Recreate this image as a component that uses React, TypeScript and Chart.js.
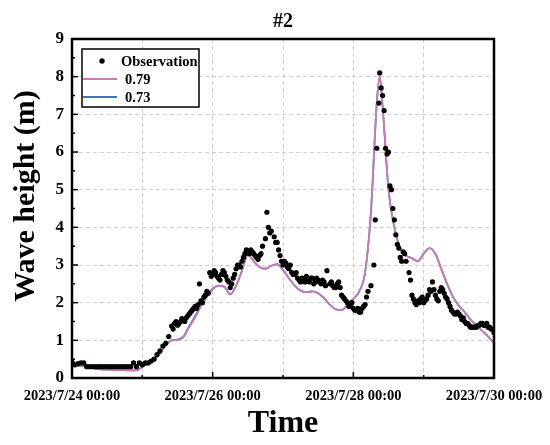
import React, { useEffect, useRef } from 'react';
import { Chart, registerables } from 'chart.js';

Chart.register(...registerables);

const FONT = '"Liberation Serif", "Times New Roman", serif';

const chartTitle = '#2';
const yTitle = 'Wave height (m)';
const xTitle = 'Time';
const legendLabels = ['Observation', '0.79', '0.73'];

// x axis: hours since 2023/7/24 00:00
const xTickHours = [0, 48, 96, 144];
const xTickLabels = ['2023/7/24 00:00', '2023/7/26 00:00', '2023/7/28 00:00', '2023/7/30 00:00'];

const obsHours = [
  0, 1, 2, 3, 4, 5, 6, 7, 8, 9, 10, 11, 12, 13, 14, 15, 16, 17, 18, 19, 20,
  21, 22, 23, 24, 25, 26, 27, 28, 29, 30, 31, 32, 33, 34, 35, 36, 37, 38, 39, 40,
  41, 42, 43, 43.5, 44, 45, 46, 47, 48, 49, 50, 51, 52, 53, 54, 55, 56, 57, 58, 59,
  60, 61, 62, 63, 64, 65, 66, 66.5, 67, 68, 69, 70, 71, 72, 73, 74, 75, 76, 77, 78,
  79, 80, 81, 82, 83, 84, 85, 86, 87, 88, 89, 90, 91, 92, 93, 94, 95, 96, 97, 98,
  99, 100, 101, 102, 103, 103.5, 104, 104.7, 105, 105.5, 106, 106.5, 107, 107.5, 108,
  108.5, 109, 109.5, 110, 110.5, 111, 111.5, 112, 112.5, 113, 113.5, 114, 115, 115.5,
  116, 117, 118, 119, 120, 121, 122, 123, 124, 125, 126, 127, 128, 129, 130, 131, 132,
  133, 134, 135, 136, 137, 138, 139, 140, 141, 142, 143, 144,
];
const obsWave = [
  0.42, 0.35, 0.38, 0.4, 0.4, 0.3, 0.3, 0.3, 0.3, 0.3, 0.3, 0.3, 0.3, 0.3, 0.3, 0.3, 0.3, 0.3, 0.3, 0.3, 0.3,
  0.4, 0.3, 0.4, 0.35, 0.4, 0.4, 0.45, 0.5, 0.62, 0.72, 0.85, 0.92, 1.1, 1.38, 1.45, 1.4, 1.5, 1.55, 1.6, 1.7,
  1.8, 1.9, 1.95, 2.5, 2.05, 2.15, 2.3, 2.8, 2.75, 2.8, 2.65, 2.75, 2.8, 2.6, 2.4, 2.65, 2.9, 3.0, 3.1, 3.3,
  3.35, 3.4, 3.3, 3.2, 3.25, 3.5, 3.7, 4.4, 4.0, 3.9, 3.75, 3.6, 3.25, 3.0, 3.05, 2.9, 2.8, 2.75, 2.65, 2.55,
  2.6, 2.7, 2.55, 2.65, 2.55, 2.6, 2.5, 2.55, 2.85, 2.5, 2.45, 2.4, 2.55, 2.2, 2.1, 2.0, 1.95, 1.85, 1.8, 1.75,
  1.85, 1.95, 2.3, 2.45, 3.0, 4.2, 6.1, 7.3, 8.1, 7.7, 7.5, 7.1, 6.1, 5.95, 6.0,
  5.1, 5.0, 4.5, 4.2, 3.8, 3.55, 3.45, 3.2, 3.1, 3.35, 3.3, 3.1, 2.8, 2.6,
  2.2, 2.0, 2.05, 2.1, 2.0, 2.1, 2.35, 2.55, 2.2, 2.05, 2.4, 2.25, 2.1, 1.9, 1.75, 1.7, 1.7,
  1.55, 1.5, 1.45, 1.35, 1.35, 1.35, 1.4, 1.45, 1.4, 1.35, 1.3, 1.2,
];

// additional half-hour observations
const obsHoursExtra = [
  34.5, 35.5, 36.5, 37.5, 38.5, 39.5, 40.5, 41.5, 42.5, 44.5, 45.5, 46.5, 47.5, 48.5, 49.5, 50.5,
  51.5, 52.5, 53.5, 54.5, 55.5, 56.5, 57.5, 58.5, 59.5, 60.5, 61.5, 62.5, 63.5, 64.5, 67.5, 69.5,
  70.5, 71.5, 72.5, 73.5, 74.5, 75.5, 76.5, 77.5, 78.5, 79.5, 80.5, 81.5, 82.5, 83.5, 84.5, 85.5,
  86.5, 88.5, 89.5, 90.5, 91.5, 92.5, 93.5, 94.5, 95.5, 96.5, 97.5, 98.5, 99.5, 100.5, 116.5, 117.5,
  118.5, 119.5, 120.5, 121.5, 122.5, 123.5, 124.5, 125.5, 126.5, 127.5, 128.5, 129.5, 130.5, 131.5,
  132.5, 133.5, 134.5, 135.5, 136.5, 137.5, 138.5, 139.5, 140.5, 141.5, 142.5, 143.5,
];
const obsWaveExtra = [
  1.3, 1.5, 1.45, 1.58, 1.5, 1.65, 1.75, 1.85, 1.85, 2.0, 2.2, 2.25, 2.7, 2.85, 2.7, 2.6,
  2.85, 2.7, 2.55, 2.5, 2.75, 3.0, 2.95, 3.2, 3.4, 3.3, 3.35, 3.25, 3.15, 3.3, 3.85, 3.6,
  3.4, 3.1, 3.1, 2.95, 3.0, 2.75, 2.8, 2.6, 2.65, 2.55, 2.6, 2.65, 2.5, 2.65, 2.55, 2.6,
  2.45, 2.55, 2.4, 2.5, 2.4, 2.15, 2.05, 1.9, 2.0, 1.8, 1.85, 1.75, 1.9, 2.15, 2.1, 1.95,
  2.0, 2.15, 2.05, 2.2, 2.3, 2.35, 2.1, 2.3, 2.35, 2.15, 2.0, 1.8, 1.7, 1.75,
  1.65, 1.6, 1.45, 1.4, 1.35, 1.35, 1.4, 1.45, 1.4, 1.45, 1.35, 1.3,
];

const modelHours = [
  0, 2, 4, 6, 8, 10, 12, 14, 16, 18, 20, 22, 24, 26, 28, 30, 32, 34, 36, 38, 40,
  42, 44, 46, 48, 50, 52, 54, 56, 58, 60, 62, 64, 66, 68, 70, 72, 74, 76, 78, 80,
  82, 84, 86, 88, 90, 92, 94, 96, 98, 100, 102, 104, 105, 106, 108, 110, 112, 114,
  116, 118, 120, 122, 124, 126, 128, 130, 132, 134, 136, 138, 140, 142, 144,
];
const model079 = [
  0.32, 0.33, 0.32, 0.28, 0.25, 0.23, 0.22, 0.21, 0.21, 0.21, 0.2, 0.2, 0.3, 0.38, 0.48, 0.65, 0.88, 1.0, 1.01, 1.08, 1.35,
  1.6, 1.9, 2.15, 2.35, 2.45, 2.42, 2.22, 2.45, 2.85, 3.27, 3.1, 2.95, 2.9, 2.98, 3.02, 2.87, 2.65, 2.45, 2.32, 2.28,
  2.3, 2.25, 2.12, 1.95, 1.82, 1.8, 1.95, 2.1, 2.3, 2.8, 4.4, 7.3, 8.0, 7.2, 5.0, 4.0, 3.45, 3.25,
  3.18, 3.1, 3.3, 3.45, 3.3, 2.9, 2.5, 2.15, 1.92, 1.75, 1.55, 1.4, 1.25, 1.1, 0.92,
];
const model073 = [
  0.32, 0.33, 0.32, 0.28, 0.25, 0.23, 0.22, 0.21, 0.21, 0.21, 0.2, 0.2, 0.3, 0.38, 0.48, 0.65, 0.88, 1.0, 1.02, 1.1, 1.38,
  1.64, 1.95, 2.2, 2.37, 2.45, 2.42, 2.22, 2.45, 2.85, 3.27, 3.1, 2.95, 2.9, 2.98, 3.02, 2.87, 2.65, 2.45, 2.32, 2.28,
  2.3, 2.25, 2.12, 1.95, 1.82, 1.8, 1.95, 2.1, 2.3, 2.8, 4.4, 7.3, 8.0, 7.2, 5.0, 4.0, 3.45, 3.25,
  3.18, 3.1, 3.3, 3.45, 3.3, 2.9, 2.5, 2.15, 1.92, 1.75, 1.55, 1.4, 1.25, 1.1, 0.92,
];

const PINK = '#c67db4';
const BLUE = '#3b76b8';

const decorPlugin = {
  id: 'decor',
  afterDraw(chart: any) {
    const { ctx, chartArea: a, scales } = chart;
    const x = scales.x;
    const y = scales.y;
    ctx.save();
    ctx.strokeStyle = '#000';
    ctx.lineWidth = 1.5;
    for (let h = 0; h <= 144; h += 24) {
      const px = x.getPixelForValue(h);
      const len = h % 48 === 0 ? 6 : 3;
      ctx.beginPath();
      ctx.moveTo(px, a.bottom);
      ctx.lineTo(px, a.bottom - len);
      ctx.stroke();
    }
    for (let v = 0; v <= 9; v += 0.5) {
      const py = y.getPixelForValue(v);
      const len = v % 1 === 0 ? 6 : 3;
      ctx.beginPath();
      ctx.moveTo(a.left, py);
      ctx.lineTo(a.left + len, py);
      ctx.stroke();
    }
    ctx.lineWidth = 2.5;
    ctx.strokeRect(a.left, a.top, a.right - a.left, a.bottom - a.top);

    // legend
    const lx = a.left + 10;
    const ly = a.top + 10;
    const lw = 117;
    const lh = 58;
    ctx.fillStyle = '#fff';
    ctx.fillRect(lx, ly, lw, lh);
    ctx.lineWidth = 1.5;
    ctx.strokeStyle = '#000';
    ctx.strokeRect(lx, ly, lw, lh);
    ctx.fillStyle = '#000';
    ctx.beginPath();
    ctx.arc(lx + 20, ly + 12, 2.7, 0, Math.PI * 2);
    ctx.fill();
    ctx.lineWidth = 2;
    ctx.strokeStyle = PINK;
    ctx.beginPath();
    ctx.moveTo(lx + 1, ly + 30);
    ctx.lineTo(lx + 35, ly + 30);
    ctx.stroke();
    ctx.strokeStyle = BLUE;
    ctx.beginPath();
    ctx.moveTo(lx + 1, ly + 48);
    ctx.lineTo(lx + 35, ly + 48);
    ctx.stroke();
    ctx.font = `bold 14.5px ${FONT}`;
    ctx.textAlign = 'left';
    ctx.textBaseline = 'alphabetic';
    ctx.fillText(legendLabels[0], lx + 39, ly + 17);
    ctx.fillText(legendLabels[1], lx + 43, ly + 35);
    ctx.fillText(legendLabels[2], lx + 43, ly + 53);

    ctx.font = `bold 20px ${FONT}`;
    ctx.textAlign = 'center';
    ctx.fillText(chartTitle, (a.left + a.right) / 2, 27);

    ctx.save();
    ctx.translate(34, 196);
    ctx.rotate(-Math.PI / 2);
    ctx.font = `bold 30px ${FONT}`;
    ctx.textAlign = 'center';
    ctx.textBaseline = 'alphabetic';
    ctx.fillText(yTitle, 0, 0);
    ctx.restore();

    ctx.restore();
  },
};

export default function App() {
  const ref = useRef<HTMLCanvasElement | null>(null);

  useEffect(() => {
    if (!ref.current) return;
    const obsPoints = obsHours
      .map((h, i) => ({ x: h, y: obsWave[i] }))
      .concat(obsHoursExtra.map((h, i) => ({ x: h, y: obsWaveExtra[i] })));
    const chart = new Chart(ref.current, {
      type: 'scatter',
      data: {
        datasets: [
          {
            label: legendLabels[0],
            data: obsPoints,
            backgroundColor: '#000',
            borderColor: '#000',
            pointRadius: 2.6,
            pointBorderWidth: 0,
            showLine: false,
          },
          {
            label: legendLabels[1],
            data: modelHours.map((h, i) => ({ x: h, y: model079[i] })),
            borderColor: PINK,
            backgroundColor: PINK,
            borderWidth: 1.8,
            pointRadius: 0,
            showLine: true,
            cubicInterpolationMode: 'monotone',
          },
          {
            label: legendLabels[2],
            data: modelHours.map((h, i) => ({ x: h, y: model073[i] })),
            borderColor: BLUE,
            backgroundColor: BLUE,
            borderWidth: 1.8,
            pointRadius: 0,
            showLine: true,
            cubicInterpolationMode: 'monotone',
          },
        ],
      },
      options: {
        animation: false,
        responsive: false,
        layout: { padding: { left: 0, right: 56, top: 39, bottom: 0 } },
        plugins: {
          legend: { display: false },
          title: { display: false },
          tooltip: { enabled: false },
        },
        scales: {
          x: {
            type: 'linear',
            min: 0,
            max: 144,
            afterFit: (s: any) => {
              s.height = 67;
              s.paddingLeft = 0;
              s.paddingRight = 0;
            },
            afterBuildTicks: (s: any) => {
              const t = [];
              for (let h = 0; h <= 144; h += 24) t.push({ value: h });
              s.ticks = t;
            },
            ticks: {
              autoSkip: false,
              maxRotation: 0,
              padding: 10,
              color: '#000',
              font: { family: FONT, size: 14.5, weight: 'bold' },
              callback: (v: any) => {
                const i = xTickHours.indexOf(Number(v));
                return i >= 0 ? xTickLabels[i] : '';
              },
            },
            grid: { color: '#cfcfcf', lineWidth: 1, drawTicks: false },
            border: { display: false, dash: [4, 3] },
            title: {
              display: true,
              text: xTitle,
              color: '#000',
              font: { family: FONT, size: 32, weight: 'bold' },
              padding: { top: 0, bottom: 2 },
            },
          },
          y: {
            min: 0,
            max: 9,
            afterFit: (s: any) => {
              s.width = 72;
              s.paddingTop = 0;
              s.paddingBottom = 0;
            },
            ticks: {
              stepSize: 1,
              padding: 8,
              color: '#000',
              font: { family: FONT, size: 17, weight: 'bold' },
            },
            grid: { color: '#cfcfcf', lineWidth: 1, drawTicks: false },
            border: { display: false, dash: [4, 3] },
          },
        },
      },
      plugins: [decorPlugin],
    } as any);
    return () => chart.destroy();
  }, []);

  return (
    <div style={{ position: 'fixed', left: 0, top: 0, width: 550, height: 445, background: '#fff' }}>
      <canvas ref={ref} width={550} height={445} style={{ width: 550, height: 445 }} />
    </div>
  );
}
